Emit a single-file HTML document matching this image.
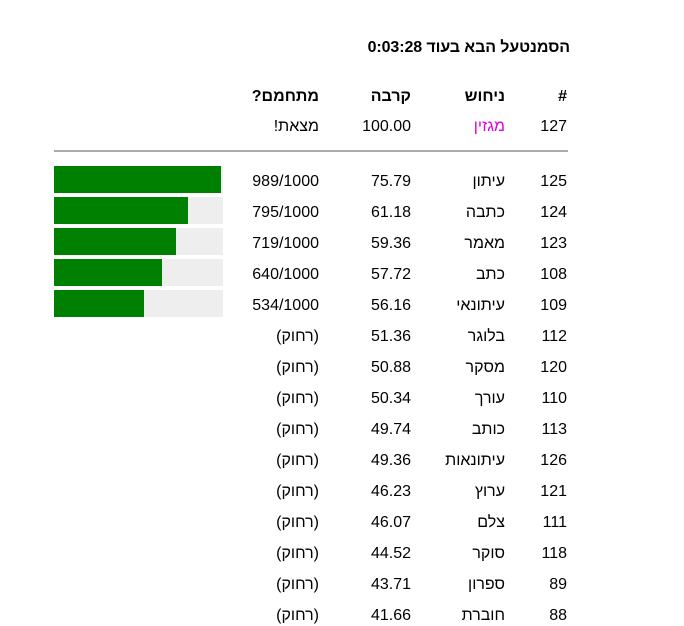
<!DOCTYPE html>
<html><head><meta charset="utf-8"><style>
body{margin:0;width:684px;height:621px;background:#fff;font-family:"Liberation Sans",Arial,sans-serif;font-size:16px;color:#000;position:relative;overflow:hidden}
.t{position:absolute;white-space:nowrap;line-height:20px;direction:rtl}
.bar{position:absolute;left:54px;width:169px;height:27px;background:#eee}
.bar i{position:absolute;left:0;top:0;height:27px;background:#008000}
hr{position:absolute;left:54px;width:514px;top:150px;margin:0;border:0;border-top:2px solid #aaa}
</style></head><body>
<div class="t" style="right:114px;top:38px;font-weight:bold;letter-spacing:-0.1px">הסמנטעל הבא בעוד 0:03:28</div>
<div id="rows"></div>
<hr>
<script>
const R=[[ "#","ניחוש","קרבה","מתחמם?",87,1],
["127","מגזין","100.00","מצאת!",117,0,"#d0d"],
["125","עיתון","75.79","989/1000",172,0,0,989],
["124","כתבה","61.18","795/1000",203,0,0,795],
["123","מאמר","59.36","719/1000",234,0,0,719],
["108","כתב","57.72","640/1000",265,0,0,640],
["109","עיתונאי","56.16","534/1000",296,0,0,534],
["112","בלוגר","51.36","(רחוק)",327],
["120","מסקר","50.88","(רחוק)",358],
["110","עורך","50.34","(רחוק)",389],
["113","כותב","49.74","(רחוק)",420],
["126","עיתונאות","49.36","(רחוק)",451],
["121","ערוץ","46.23","(רחוק)",482],
["111","צלם","46.07","(רחוק)",513],
["118","סוקר","44.52","(רחוק)",544],
["89","ספרון","43.71","(רחוק)",575],
["88","חוברת","41.66","(רחוק)",606]];
let h="";
for(const r of R){const y=r[4],bw=r[5]?"font-weight:bold;":"";
h+=`<div class="t" style="right:117px;top:${y}px;${bw}">${r[0]}</div>`;
h+=`<div class="t" style="right:179px;top:${y}px;${bw}${r[6]?"color:"+r[6]:""}">${r[1]}</div>`;
h+=`<div class="t" style="right:273px;top:${y}px;${bw}direction:ltr">${r[2]}</div>`;
h+=`<div class="t" style="right:365px;top:${y}px;${bw}${r[3].includes('/')?'direction:ltr':''}">${r[3]}</div>`;
if(r[7])h+=`<div class="bar" style="top:${y-6}px"><i style="width:${Math.round(r[7]*169/1000)}px"></i></div>`;}
document.getElementById("rows").innerHTML=h;
</script>
</body></html>
